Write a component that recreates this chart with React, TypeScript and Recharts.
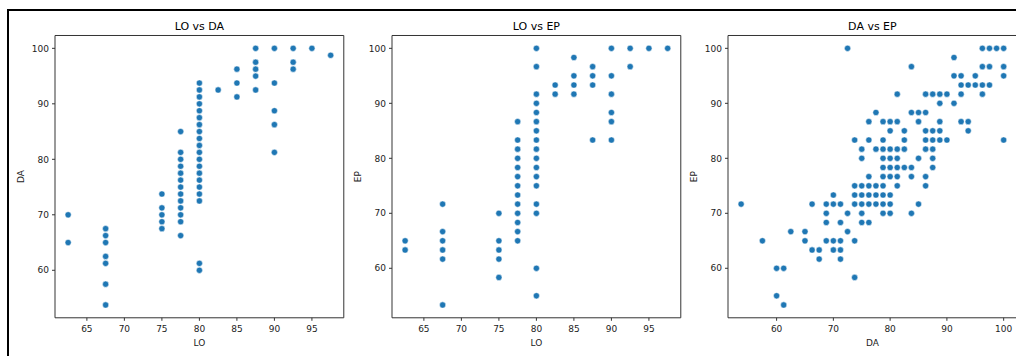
import { ScatterChart, Scatter, XAxis, YAxis } from "recharts"

// point groups: [shared value, [values...]]
const loDaGroups: [number, number[]][] = [
  [62.5, [70, 65]],
  [67.5, [67.5, 66.25, 65, 62.5, 61.25, 57.5, 53.75]],
  [75, [73.75, 71.25, 70, 68.75, 67.5]],
  [77.5, [85, 81.25, 80, 78.75, 77.5, 76.25, 75, 73.75, 72.5, 71.25, 70, 68.75, 66.25]],
  [80, [93.75, 92.5, 91.25, 90, 88.75, 87.5, 86.25, 85, 83.75, 82.5, 81.25, 80, 78.75, 77.5, 76.25, 75, 73.75, 72.5, 61.25, 60]],
  [82.5, [92.5]],
  [85, [96.25, 93.75, 91.25]],
  [87.5, [100, 97.5, 96.25, 95, 92.5]],
  [90, [100, 93.75, 88.75, 86.25, 81.25]],
  [92.5, [100, 97.5, 96.25]],
  [95, [100]],
  [97.5, [98.75]],
]

const loEpGroups: [number, number[]][] = [
  [62.5, [65, 63.33]],
  [67.5, [71.67, 66.67, 65, 63.33, 61.67, 53.33]],
  [75, [70, 65, 63.33, 61.67, 58.33]],
  [77.5, [86.67, 83.33, 81.67, 80, 78.33, 76.67, 75, 73.33, 71.67, 70, 68.33, 66.67, 65]],
  [80, [100, 96.67, 91.67, 90, 88.33, 86.67, 85, 83.33, 81.67, 80, 78.33, 76.67, 75, 71.67, 70, 60, 55]],
  [82.5, [93.33, 91.67]],
  [85, [98.33, 95, 93.33, 91.67]],
  [87.5, [96.67, 95, 93.33, 83.33]],
  [90, [100, 95, 91.67, 88.33, 86.67, 83.33]],
  [92.5, [100, 96.67]],
  [95, [100]],
  [97.5, [100]],
]

// grouped by EP row: [EP, [DA...]]
const daEpRows: [number, number[]][] = [
  [100, [72.5, 96.25, 97.5, 98.75, 100]],
  [98.33, [91.25]],
  [96.67, [83.75, 96.25, 97.5, 100]],
  [95, [91.25, 92.5, 95, 100]],
  [93.33, [92.5, 93.75, 95, 96.25, 97.5]],
  [91.67, [81.25, 86.25, 87.5, 88.75, 90, 92.5, 96.25]],
  [90, [88.75, 91.25]],
  [88.33, [77.5, 83.75, 85, 86.25]],
  [86.67, [76.25, 78.75, 80, 81.25, 85, 88.75, 92.5, 93.75]],
  [85, [80, 82.5, 86.25, 87.5, 88.75, 93.75]],
  [83.33, [73.75, 76.25, 78.75, 82.5, 86.25, 87.5, 88.75, 90, 100]],
  [81.67, [75, 77.5, 78.75, 80, 81.25, 82.5, 86.25, 87.5]],
  [80, [75, 78.75, 80, 81.25, 85, 87.5]],
  [78.33, [78.75, 80, 81.25, 82.5, 83.75, 87.5]],
  [76.67, [76.25, 78.75, 80, 81.25, 83.75, 86.25]],
  [75, [73.75, 75, 76.25, 77.5, 78.75, 81.25, 86.25]],
  [73.33, [70, 73.75, 75, 76.25, 77.5, 78.75, 80]],
  [71.67, [53.75, 66.25, 68.75, 70, 71.25, 73.75, 75, 76.25, 77.5, 78.75, 80, 85]],
  [70, [68.75, 72.5, 75, 78.75, 80, 83.75]],
  [68.33, [68.75, 71.25, 75, 76.25]],
  [66.67, [62.5, 65, 72.5]],
  [65, [57.5, 65, 68.75, 70, 71.25, 73.75]],
  [63.33, [66.25, 67.5, 70, 71.25]],
  [61.67, [67.5, 71.25]],
  [60, [60, 61.25]],
  [58.33, [73.75]],
  [55, [60]],
  [53.33, [61.25]],
]

const loTicks = [65, 70, 75, 80, 85, 90, 95]
const scoreTicks = [60, 70, 80, 90, 100]

type Pt = { x: number; y: number }

const byX = (groups: [number, number[]][]): Pt[] =>
  groups.flatMap(([x, ys]) => ys.map((y) => ({ x, y })))
const byY = (groups: [number, number[]][]): Pt[] =>
  groups.flatMap(([y, xs]) => xs.map((x) => ({ x, y })))

// matplotlib-style limits: data range plus 5% each side
const limits = (vals: number[]): [number, number] => {
  const lo = Math.min(...vals)
  const hi = Math.max(...vals)
  const pad = (hi - lo) * 0.05
  return [lo - pad, hi + pad]
}

const PLOT_W = 288.8
const PLOT_H = 282.3
const Y_AXIS_W = 68
const TITLE_H = 19
const X_AXIS_H = 49.8
const TOP = 16.5
const AXIS = "#333"
const TICK = { fill: "#222", fontSize: 9 }

const Dot = (props: any) => (
  <circle cx={props.cx} cy={props.cy} r={3.1} fill="#1f77b4" stroke="#fff" strokeWidth={0.5} />
)

function Panel({ left, title, xLabel, yLabel, data, xTicks, yTicks }: any) {
  const xDomain = limits(data.map((d: Pt) => d.x))
  const yDomain = limits(data.map((d: Pt) => d.y))
  return (
    <div style={{ position: "absolute", left: left - Y_AXIS_W, top: 0 }}>
      <ScatterChart
        width={Y_AXIS_W + PLOT_W + 4}
        height={TOP + TITLE_H + PLOT_H + X_AXIS_H}
        margin={{ top: TOP, right: 3, bottom: 0, left: 0 }}
      >
        <XAxis
          xAxisId="top"
          orientation="top"
          type="number"
          dataKey="x"
          domain={xDomain}
          height={TITLE_H}
          tick={false}
          tickLine={false}
          axisLine={{ stroke: AXIS }}
          label={{ value: title, position: "center", fill: "#000", fontSize: 11 }}
        />
        <XAxis
          type="number"
          dataKey="x"
          domain={xDomain}
          ticks={xTicks}
          height={X_AXIS_H}
          tickSize={3}
          tickMargin={5}
          tick={TICK}
          tickLine={{ stroke: AXIS }}
          axisLine={{ stroke: AXIS }}
          label={{ value: xLabel, position: "center", fill: "#222", fontSize: 9 }}
        />
        <YAxis
          type="number"
          dataKey="y"
          domain={yDomain}
          ticks={yTicks}
          width={Y_AXIS_W}
          tickSize={3}
          tickMargin={3}
          tick={TICK}
          tickLine={{ stroke: AXIS }}
          axisLine={{ stroke: AXIS }}
          label={{ value: yLabel, position: "center", angle: -90, fill: "#222", fontSize: 9 }}
        />
        <YAxis
          yAxisId="right"
          orientation="right"
          type="number"
          dataKey="y"
          domain={yDomain}
          width={1}
          tick={false}
          tickLine={false}
          axisLine={{ stroke: AXIS }}
        />
        <Scatter data={data} shape={Dot} isAnimationActive={false} />
      </ScatterChart>
    </div>
  )
}

export default function App() {
  return (
    <div
      style={{
        position: "absolute",
        left: 0,
        top: 0,
        width: 1016,
        height: 356,
        overflow: "hidden",
        background: "#fff",
        fontFamily: "'DejaVu Sans', sans-serif",
      }}
    >
      <div
        style={{
          position: "absolute",
          left: 7,
          top: 9,
          width: 2000,
          height: 2000,
          borderTop: "2px solid #000",
          borderLeft: "2px solid #000",
        }}
      />
      <Panel left={55.4} title="LO vs DA" xLabel="LO" yLabel="DA" data={byX(loDaGroups)} xTicks={loTicks} yTicks={scoreTicks} />
      <Panel left={392.2} title="LO vs EP" xLabel="LO" yLabel="EP" data={byX(loEpGroups)} xTicks={loTicks} yTicks={scoreTicks} />
      <Panel left={728.2} title="DA vs EP" xLabel="DA" yLabel="EP" data={byY(daEpRows)} xTicks={scoreTicks} yTicks={scoreTicks} />
    </div>
  )
}
